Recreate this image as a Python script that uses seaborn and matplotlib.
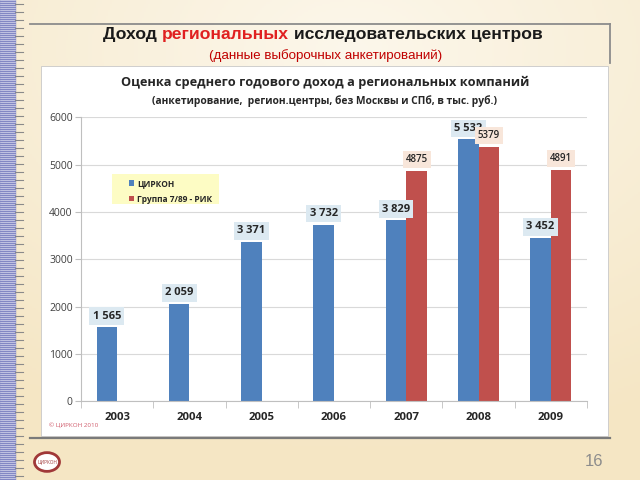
import numpy as np
import pandas as pd
import matplotlib
matplotlib.use('Agg')
import matplotlib.pyplot as plt
from matplotlib.patches import Rectangle, Circle
from matplotlib.lines import Line2D
import seaborn as sns

# ---------------- data ----------------
years = ['2003', '2004', '2005', '2006', '2007', '2008', '2009']
tsirkon = [1565, 2059, 3371, 3732, 3829, 5532, 3452]
gruppa = [np.nan, np.nan, np.nan, np.nan, 4875, 5379, 4891]
series_names = ['ЦИРКОН', 'Группа 7/89 - РИК']
y_ticks = [0, 1000, 2000, 3000, 4000, 5000, 6000]

slide_title_parts = ['Доход ', 'региональных', ' исследовательских центров']
slide_subtitle = '(данные выборочных анкетирований)'
chart_title = 'Оценка среднего годового доход а региональных компаний'
chart_subtitle = '(анкетирование,  регион.центры, без Москвы и СПб, в тыс. руб.)'
copyright_text = '© ЦИРКОН 2010'
page_number = '16'
logo_text = 'ЦИРКОН'

df = pd.DataFrame({
    'year': years * 2,
    'series': [series_names[0]] * len(years) + [series_names[1]] * len(years),
    'value': tsirkon + gruppa,
})

BLUE = '#4f81bd'
RED = '#c0504d'
CHART_FONT = ['Open Sans', 'DejaVu Sans']
SLIDE_FONT = ['Liberation Sans', 'DejaVu Sans']
plt.rcParams['font.family'] = CHART_FONT

W, H = 640, 480
def fx(x):
    return x / W
def fy(y):
    return 1 - y / H

fig = plt.figure(figsize=(6.4, 4.8), dpi=100)

# ---------------- slide background ----------------
bg = fig.add_axes([0, 0, 1, 1], zorder=-10)
yy, xx = np.mgrid[0:1:240j, 0:1:320j]
d = np.sqrt(((xx - 0.55) / 1.0) ** 2 + ((yy - 0.1) / 0.9) ** 2)
t = np.clip(d / 0.95, 0, 1)[..., None]
c1 = np.array([252, 247, 235]) / 255
c2 = np.array([245, 230, 196]) / 255
bg.imshow(c1 * (1 - t) + c2 * t, aspect='auto', extent=[0, 1, 0, 1])
bg.axis('off')

# left decorative stripe
fig.add_artist(Rectangle((0, 0), fx(15), 1, transform=fig.transFigure,
                         color='#8388c4', zorder=-9))
for yv in range(0, 480, 2):
    fig.add_artist(Line2D([0, fx(15)], [fy(yv)] * 2, transform=fig.transFigure,
                          color='#e4e4f3', lw=0.45, zorder=-8))
for yv in np.arange(4, 480, 8):
    fig.add_artist(Line2D([fx(15), fx(23)], [fy(yv)] * 2, transform=fig.transFigure,
                          color='#8a8a8a', lw=0.8, zorder=-8))

# title frame lines
fig.add_artist(Line2D([fx(30), fx(610)], [fy(23.5)] * 2, transform=fig.transFigure,
                      color='#8c8c8c', lw=1.3, zorder=-7))
fig.add_artist(Line2D([fx(610)] * 2, [fy(23.5), fy(63)], transform=fig.transFigure,
                      color='#8c8c8c', lw=1.3, zorder=-7))

# white chart panel
fig.add_artist(Rectangle((fx(40.5), fy(436)), fx(608) - fx(40.5), fy(66) - fy(436),
                         transform=fig.transFigure, facecolor='white',
                         edgecolor='#c8c8c8', lw=0.6, zorder=-5))
fig.add_artist(Line2D([fx(30), fx(610)], [fy(437.5)] * 2, transform=fig.transFigure,
                      color='#7a7a7a', lw=1.6, zorder=-4))

# ---------------- slide titles ----------------
renderer = fig.canvas.get_renderer()
title_colors = ['#1a1a1a', '#e02020', '#1a1a1a']
pieces = []
for txt, col in zip(slide_title_parts, title_colors):
    pieces.append(fig.text(0, fy(34), txt, color=col, fontsize=12.6,
                           fontweight='bold', family=SLIDE_FONT,
                           ha='left', va='center'))
widths = [p.get_window_extent(renderer).width for p in pieces]
x0 = 323 - sum(widths) / 2
for p, w in zip(pieces, widths):
    p.set_x(fx(x0))
    x0 += w

fig.text(fx(326), fy(56), slide_subtitle, color='#c00000', fontsize=9.6,
         family=SLIDE_FONT, ha='center', va='center')

# chart titles
fig.text(fx(325), fy(82), chart_title, color='#262626', fontsize=9.15,
         fontweight='bold', ha='center', va='center')
fig.text(fx(325), fy(101), chart_subtitle, color='#262626', fontsize=7.4,
         fontweight='bold', ha='center', va='center')

# ---------------- chart ----------------
ax = fig.add_axes([fx(81), fy(401.3), fx(587) - fx(81), fy(117.3) - fy(401.3)])
ax.set_axisbelow(True)
sns.barplot(data=df, x='year', y='value', hue='series', hue_order=series_names,
            palette=[BLUE, RED], width=0.57, dodge=True, errorbar=None,
            saturation=1, ax=ax)

ax.set_xlim(-0.5, len(years) - 0.5)
ax.set_ylim(0, 6000)
ax.set_yticks(y_ticks)
ax.set_yticklabels([str(v) for v in y_ticks])
ax.set_xlabel('')
ax.set_ylabel('')
ax.grid(axis='y', color='#d9d9d9', lw=0.8)
ax.grid(axis='x', visible=False)
for s in ['top', 'right']:
    ax.spines[s].set_visible(False)
for s in ['left', 'bottom']:
    ax.spines[s].set_color('#bfbfbf')
    ax.spines[s].set_linewidth(0.8)
ax.tick_params(axis='y', length=4, color='#bfbfbf', labelsize=7.5,
               labelcolor='#404040', pad=2)
ax.set_xticks(np.arange(-0.5, len(years)), minor=True)
ax.tick_params(axis='x', which='major', length=0, labelsize=8.2,
               labelcolor='#262626', pad=8)
ax.tick_params(axis='x', which='minor', length=5, color='#bfbfbf')
for lbl in ax.get_xticklabels():
    lbl.set_fontweight('bold')

# data labels
for ci, cont in enumerate(ax.containers):
    for patch in cont:
        h = patch.get_height()
        if not np.isfinite(h) or h == 0:
            continue
        xc = patch.get_x() + patch.get_width() / 2
        if ci == 0:
            label = f'{int(round(h)):,}'.replace(',', ' ')
            ax.annotate(label, (xc, h), xytext=(0, 4), textcoords='offset points',
                        ha='center', va='bottom', fontsize=8, fontweight='bold',
                        color='#262626', zorder=6,
                        bbox=dict(boxstyle='square,pad=0.3', fc='#dce9f1', ec='none'))
        else:
            label = f'{int(round(h))}'
            ax.annotate(label, (xc, h), xytext=(0, 4), textcoords='offset points',
                        ha='center', va='bottom', fontsize=7, fontweight='semibold',
                        color='#262626', zorder=7,
                        bbox=dict(boxstyle='square,pad=0.3', fc='#f8e6da', ec='none'))

# legend
old = ax.get_legend()
handles = old.legend_handles
labels = [tx.get_text() for tx in old.get_texts()]
old.remove()
ax.add_patch(Rectangle((fx(112), fy(204)), fx(219) - fx(112), fy(174) - fy(204),
                       transform=fig.transFigure, facecolor='#fdfcc4',
                       edgecolor='none', zorder=4))
leg = ax.legend(handles, labels, loc='upper left',
                bbox_to_anchor=(fx(123), fy(173)), bbox_transform=fig.transFigure,
                frameon=False, fontsize=6.0, handlelength=0.6, handleheight=0.6,
                handletextpad=0.4, labelspacing=0.8, borderpad=0.2)
leg.set_zorder(5)
for tx in leg.get_texts():
    tx.set_fontweight('bold')
    tx.set_color('#262626')

# footer items
fig.text(fx(49), fy(425), copyright_text, color='#d05c6c', fontsize=4.5,
         ha='left', va='center')
fig.add_artist(Circle((fx(47), fy(462)), 12.5 / W, transform=fig.transFigure,
                      facecolor='white', edgecolor='#a03838', lw=2.0, zorder=2))
fig.text(fx(47), fy(462), logo_text, color='#a03838', fontsize=3.3,
         ha='center', va='center', zorder=3)
fig.text(fx(594), fy(461), page_number, color='#8c8c8c', fontsize=12,
         family=SLIDE_FONT, ha='center', va='center')

fig.savefig('out.png', dpi=100)
